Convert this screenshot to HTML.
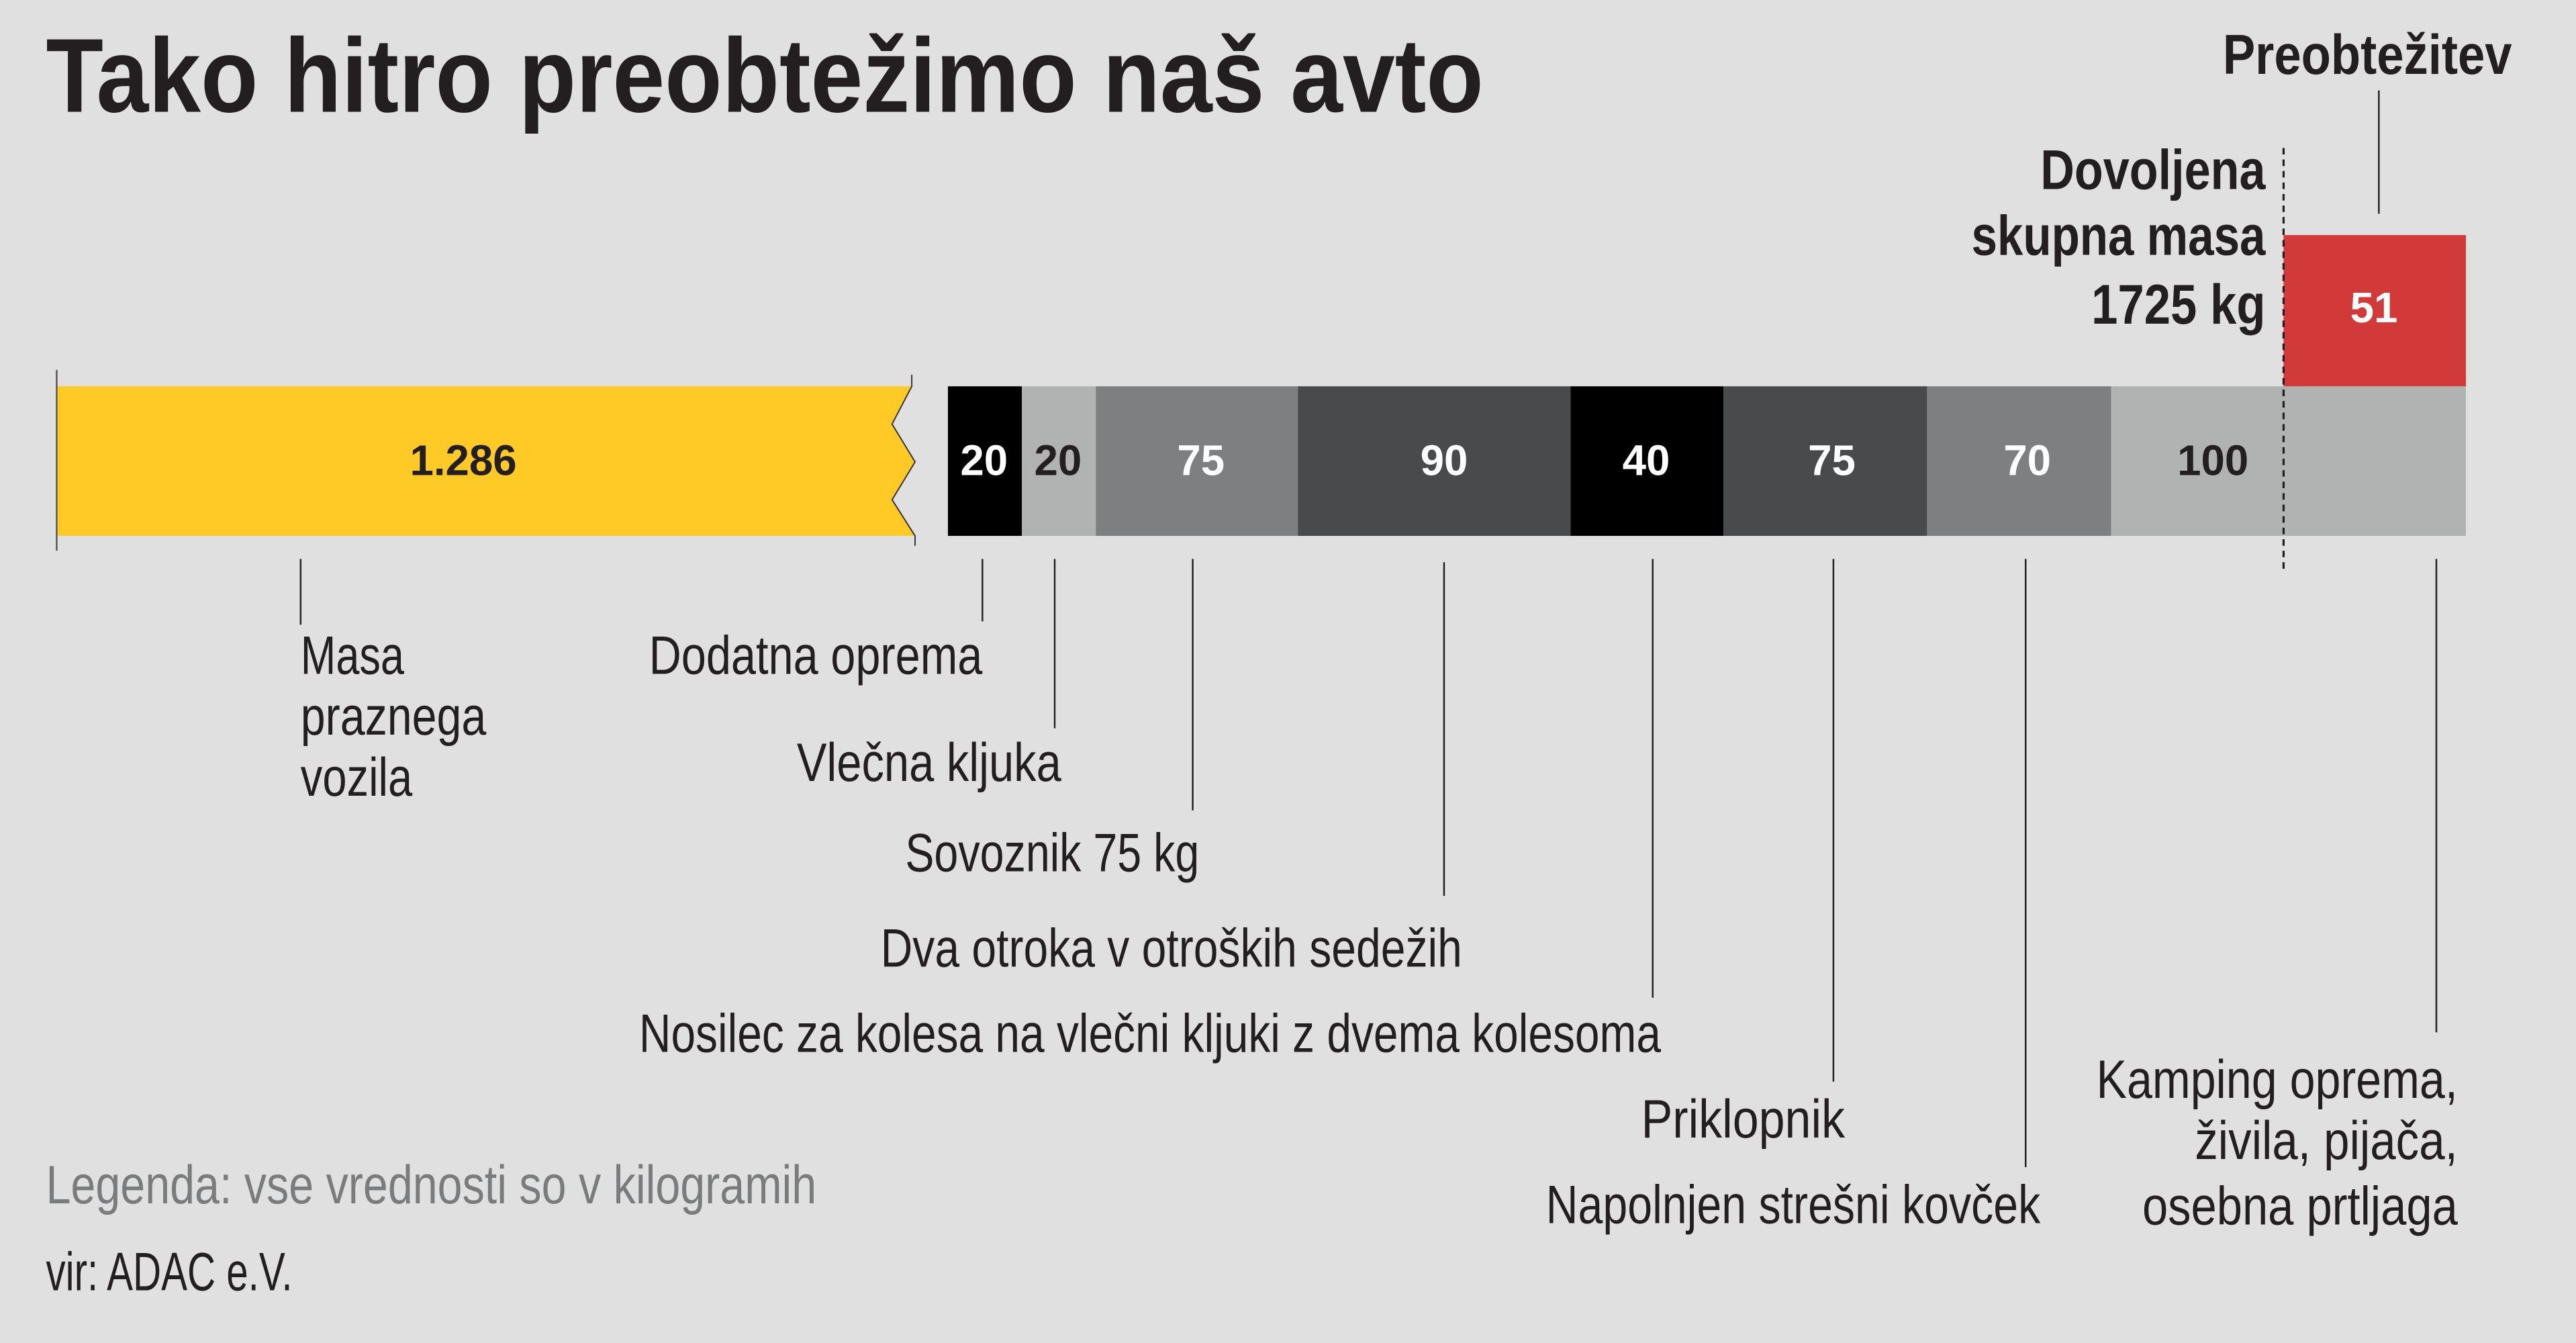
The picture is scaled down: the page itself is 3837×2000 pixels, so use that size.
<!DOCTYPE html>
<html><head><meta charset="utf-8"><style>html,body{margin:0;padding:0;background:#dfe0df;}svg{display:block}</style></head>
<body>
<svg width="3837" height="2000" viewBox="0 0 1568 817" preserveAspectRatio="none" xmlns="http://www.w3.org/2000/svg" font-family="'Liberation Sans Narrow','Liberation Sans',sans-serif">
<rect width="1568" height="817" fill="#dfe0df"/>
<text x="28" y="68" font-size="64" font-weight="bold" fill="#231f20" textLength="875" lengthAdjust="spacingAndGlyphs">Tako hitro preobtežimo naš avto</text>
<polygon points="35,235 555,235 543,258 557,281 543,304 557,326 35,326" fill="#ffc926"/>
<polyline points="555,228 555,235 543,258 557,281 543,304 557,326 557,332" fill="none" stroke="#333" stroke-width="0.8"/>
<line x1="34.5" y1="225" x2="34.5" y2="335" stroke="#555" stroke-width="1"/>
<rect x="577" y="235" width="45" height="91" fill="#000"/>
<rect x="622" y="235" width="45" height="91" fill="#b1b2b2"/>
<rect x="667" y="235" width="123" height="91" fill="#7d7f80"/>
<rect x="790" y="235" width="166" height="91" fill="#484a4c"/>
<rect x="956" y="235" width="93" height="91" fill="#000"/>
<rect x="1049" y="235" width="124" height="91" fill="#484a4c"/>
<rect x="1173" y="235" width="112" height="91" fill="#7d7f80"/>
<rect x="1285" y="235" width="105" height="91" fill="#b1b2b2"/>
<rect x="1390" y="235" width="111" height="91" fill="#b1b2b2"/>
<rect x="1390" y="143" width="111" height="92" fill="#d23a3a"/>
<g font-size="26" font-weight="bold" text-anchor="middle">
<text x="282" y="289" fill="#231f20">1.286</text>
<text x="599" y="289" fill="#fff">20</text>
<text x="644" y="289" fill="#231f20">20</text>
<text x="731" y="289" fill="#fff">75</text>
<text x="879" y="289" fill="#fff">90</text>
<text x="1002" y="289" fill="#fff">40</text>
<text x="1115" y="289" fill="#fff">75</text>
<text x="1234" y="289" fill="#fff">70</text>
<text x="1347" y="289" fill="#231f20">100</text>
<text x="1445" y="196" fill="#fff">51</text>
</g>
<line x1="1390" y1="90" x2="1390" y2="346" stroke="#231f20" stroke-width="1.3" stroke-dasharray="4,3"/>
<line x1="1448" y1="55" x2="1448" y2="130" stroke="#231f20" stroke-width="1"/>
<g font-weight="bold" fill="#231f20" text-anchor="end" font-size="34">
<text x="1529" y="45" textLength="176" lengthAdjust="spacingAndGlyphs">Preobtežitev</text>
<text x="1379" y="115" textLength="137" lengthAdjust="spacingAndGlyphs">Dovoljena</text>
<text x="1379" y="155" textLength="179" lengthAdjust="spacingAndGlyphs">skupna masa</text>
<text x="1379" y="197" textLength="106" lengthAdjust="spacingAndGlyphs">1725 kg</text>
</g>
<g stroke="#231f20" stroke-width="1">
<line x1="183" y1="340" x2="183" y2="380"/>
<line x1="598" y1="340" x2="598" y2="378"/>
<line x1="642" y1="340" x2="642" y2="443"/>
<line x1="726" y1="340" x2="726" y2="493"/>
<line x1="879" y1="342" x2="879" y2="545"/>
<line x1="1006" y1="340" x2="1006" y2="607"/>
<line x1="1116" y1="340" x2="1116" y2="658"/>
<line x1="1233" y1="340" x2="1233" y2="710"/>
<line x1="1483" y1="340" x2="1483" y2="628"/>
</g>
<g font-size="33" fill="#231f20">
<text x="183" y="410" textLength="63" lengthAdjust="spacingAndGlyphs">Masa</text>
<text x="183" y="447" textLength="113" lengthAdjust="spacingAndGlyphs">praznega</text>
<text x="183" y="484" textLength="68" lengthAdjust="spacingAndGlyphs">vozila</text>
<text x="395" y="410" textLength="203" lengthAdjust="spacingAndGlyphs">Dodatna oprema</text>
<text x="485" y="475" textLength="161" lengthAdjust="spacingAndGlyphs">Vlečna kljuka</text>
<text x="551" y="530" textLength="179" lengthAdjust="spacingAndGlyphs">Sovoznik 75 kg</text>
<text x="536" y="588" textLength="354" lengthAdjust="spacingAndGlyphs">Dva otroka v otroških sedežih</text>
<text x="389" y="640" textLength="622" lengthAdjust="spacingAndGlyphs">Nosilec za kolesa na vlečni kljuki z dvema kolesoma</text>
<text x="999" y="692" textLength="124" lengthAdjust="spacingAndGlyphs">Priklopnik</text>
<text x="941" y="744" textLength="301" lengthAdjust="spacingAndGlyphs">Napolnjen strešni kovček</text>
<text x="1276" y="668" textLength="220" lengthAdjust="spacingAndGlyphs">Kamping oprema,</text>
<text x="1336" y="705" textLength="160" lengthAdjust="spacingAndGlyphs">živila, pijača,</text>
<text x="1304" y="745" textLength="192" lengthAdjust="spacingAndGlyphs">osebna prtljaga</text>
<text x="28" y="732" fill="#7a7b7c" textLength="469" lengthAdjust="spacingAndGlyphs">Legenda: vse vrednosti so v kilogramih</text>
<text x="28" y="785" textLength="150" lengthAdjust="spacingAndGlyphs">vir: ADAC e.V.</text>
</g>
</svg>
</body></html>
